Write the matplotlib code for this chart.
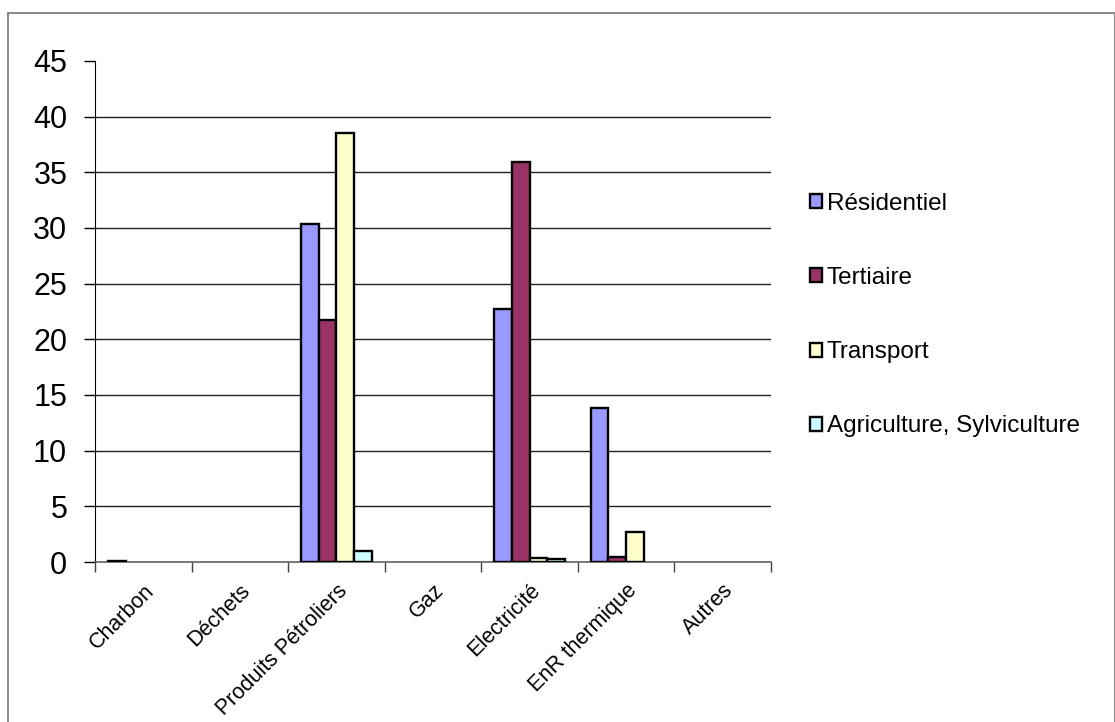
import matplotlib
matplotlib.use("Agg")
import matplotlib.pyplot as plt
from matplotlib.patches import Rectangle, Patch
import numpy as np

plt.rcParams['font.family'] = ['Liberation Sans', 'DejaVu Sans']

categories = ["Charbon", "Déchets", "Produits Pétroliers", "Gaz", "Electricité", "EnR thermique", "Autres"]
series_names = ["Résidentiel", "Tertiaire", "Transport", "Agriculture, Sylviculture"]
residentiel = [0.1, 0, 30.4, 0, 22.7, 13.8, 0]
tertiaire = [0, 0, 21.7, 0, 35.9, 0.45, 0]
transport = [0, 0, 38.5, 0, 0.4, 2.65, 0]
agriculture = [0, 0, 1.0, 0, 0.3, 0, 0]
colors = ["#9999FF", "#993366", "#FFFFCC", "#CCFFFF"]
yticks = [0, 5, 10, 15, 20, 25, 30, 35, 40, 45]

W, H = 1115, 722
fig = plt.figure(figsize=(W / 100, H / 100), dpi=100)
ax = fig.add_axes([95 / W, 1 - 562 / H, (771 - 95) / W, (562 - 61) / H])

x = np.arange(len(categories))
bw = 0.184
data = [residentiel, tertiaire, transport, agriculture]
for i, (vals, c, name) in enumerate(zip(data, colors, series_names)):
    v = np.array(vals, dtype=float)
    v[v == 0] = np.nan  # zero values are not drawn
    ax.bar(x + (i - 1.5) * bw, v, width=bw, color=c, edgecolor="black",
           linewidth=1.7, label=name, zorder=3)

ax.set_xlim(-0.5, len(categories) - 0.5)
ax.set_ylim(0, 45)
ax.set_yticks(yticks)
ax.set_yticklabels([str(v) for v in yticks], fontsize=22)
for v in yticks[1:-1]:
    ax.axhline(v, color="#202020", linewidth=1.0, zorder=1)

# category boundary ticks
ax.set_xticks(np.arange(-0.5, len(categories) + 0.5, 1.0))
ax.set_xticklabels([])
ax.set_xticks(x, minor=True)
ax.set_xticklabels(categories, minor=True, rotation=45, ha="right",
                   rotation_mode="anchor", fontsize=15.5)
ax.tick_params(axis="x", which="minor", length=0, pad=13)
ax.tick_params(axis="x", which="major", length=7, width=1, color="#404040", direction="out")
ax.tick_params(axis="y", length=8, width=1, direction="out", pad=12)

for s in ["top", "right"]:
    ax.spines[s].set_visible(False)
ax.spines["left"].set_color("black")
ax.spines["bottom"].set_color("#606060")
ax.spines["bottom"].set_linewidth(1.2)

handles = [Patch(facecolor=c, edgecolor="black", linewidth=1.7) for c in colors]
fig.legend(handles, series_names, loc="upper left",
           bbox_to_anchor=(800 / W, 1 - 183 / H), frameon=False,
           fontsize=17.5, handlelength=0.5, handleheight=0.5,
           handletextpad=0.2, labelspacing=2.15, borderaxespad=0)

fig.patches.append(Rectangle((8 / W, -0.01), (1114.5 - 8) / W, 1 - 13 / H + 0.01,
                             transform=fig.transFigure, fill=False,
                             edgecolor="#808080", linewidth=1.3))

fig.savefig("out.png", dpi=100)
